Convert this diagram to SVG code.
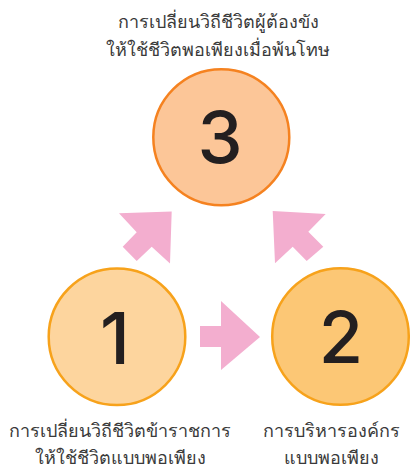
<svg xmlns="http://www.w3.org/2000/svg" width="411" height="473" viewBox="0 0 411 473">
  <style>
    .lbl { font-family: "Noto Sans", "DejaVu Sans", sans-serif; font-size: 18px; fill: #3a3a3a; text-anchor: middle; }
    .num { font-family: Inter, "Liberation Sans", sans-serif; font-size: 72px; font-weight: 500; fill: #231F20; text-anchor: middle; }
    .arrow { fill: #F3AECF; }
  </style>
  <rect width="411" height="473" fill="#ffffff"/>
  <g id="connectors">
    <polygon class="arrow" points="171.7,211.5 170,263.5 151.7,246.7 136.7,261 122.7,246.7 136.7,232.3 119,213.3"/>
    <polygon class="arrow" points="272.7,211 275,263.3 292.7,246.7 306.7,261 323.3,246.7 308.3,231.7 325.7,214"/>
    <polygon class="arrow" points="200,326 221,326 221,301 260,337 221,370 221,347 200,347"/>
  </g>
  <g id="node3">
    <circle cx="221.3" cy="137.3" r="68" fill="#FCC698" stroke="#F58220" stroke-width="2.5"/>
    <text class="num" x="220" y="163">3</text>
    <text class="lbl" x="218" y="28">การเปลี่ยนวิถีชีวิตผู้ต้องขัง</text>
    <text class="lbl" x="218" y="56">ให้ใช้ชีวิตพอเพียงเมื่อพ้นโทษ</text>
  </g>
  <g id="node1">
    <circle cx="117" cy="336.8" r="68.3" fill="#FDD59E" stroke="#F7A21B" stroke-width="2.5"/>
    <text class="num" x="115" y="364">1</text>
    <text class="lbl" x="120" y="437">การเปลี่ยนวิถีชีวิตข้าราชการ</text>
    <text class="lbl" x="120" y="464">ให้ใช้ชีวิตแบบพอเพียง</text>
  </g>
  <g id="node2">
    <circle cx="340.5" cy="336.5" r="68.3" fill="#FCC775" stroke="#F7A21B" stroke-width="2.5"/>
    <text class="num" x="341" y="363">2</text>
    <text class="lbl" x="331" y="437">การบริหารองค์กร</text>
    <text class="lbl" x="331" y="464">แบบพอเพียง</text>
  </g>
</svg>
